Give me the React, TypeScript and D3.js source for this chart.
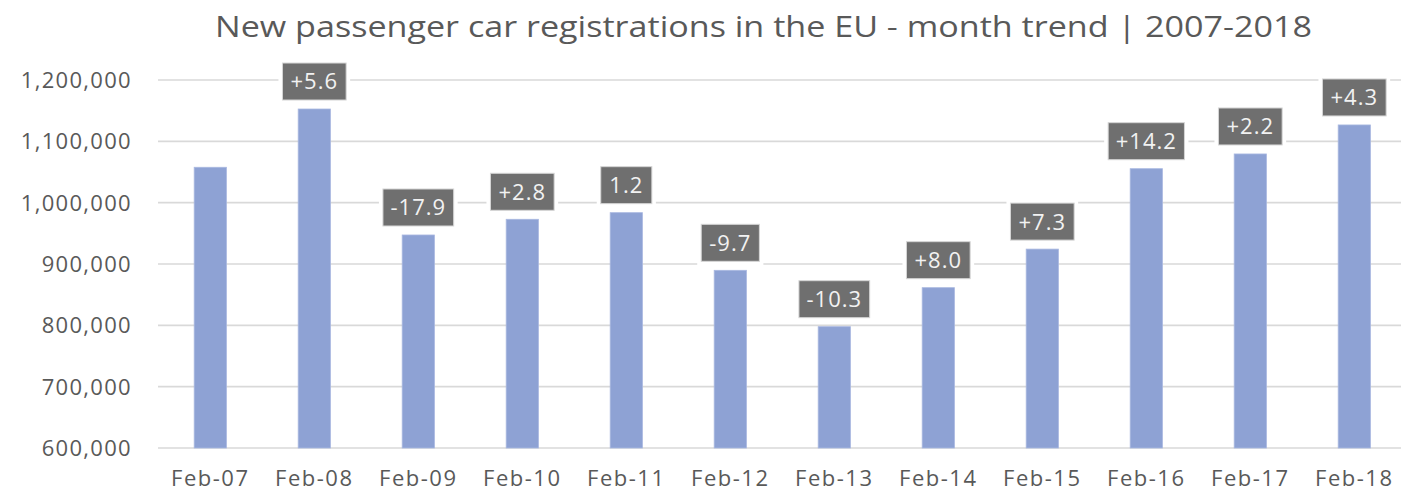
import React from 'react';
import { scaleBand, scaleLinear, range } from 'd3';

// chart data
const categories = ['Feb-07', 'Feb-08', 'Feb-09', 'Feb-10', 'Feb-11', 'Feb-12', 'Feb-13', 'Feb-14', 'Feb-15', 'Feb-16', 'Feb-17', 'Feb-18'];
const registrations = [1057700, 1152700, 947300, 972900, 983700, 889700, 797800, 861400, 924300, 1055400, 1079400, 1126700];
const changeLabels = ['', '+5.6', '-17.9', '+2.8', '1.2', '-9.7', '-10.3', '+8.0', '+7.3', '+14.2', '+2.2', '+4.3'];
const yTicks = range(600000, 1200001, 100000);

const width = 1401;
const height = 493;
const font = '"Open Sans", "Noto Sans", sans-serif';

// rough text width for label boxes (Open Sans digit widths)
const textWidth = (s: string, size: number) =>
  s.split('').reduce((acc, c) => acc + (c === '.' ? 0.27 : c === '-' ? 0.32 : 0.572), 0) * size;

const App = () => {
  const xScale = scaleBand<string>()
    .domain(categories)
    .range([158.3, 158.3 + 104 * categories.length])
    .paddingInner(0.69)
    .paddingOuter(0.345);

  const yScale = scaleLinear().domain([600000, 1200000]).range([448, 80]);

  const fmt = (v: number) => v.toLocaleString('en-US');

  return (
    <svg width={width} height={height} style={{ position: 'absolute', left: 0, top: 0, background: '#fff' }}>
      {/* title */}
      <text x={215} y={37} textLength={1097} lengthAdjust="spacingAndGlyphs" fontFamily={font} fontSize={29} fill="#595959">
        New passenger car registrations in the EU - month trend | 2007-2018
      </text>

      {/* gridlines */}
      {yTicks.map((t) => (
        <line key={t} x1={158} x2={width} y1={yScale(t)} y2={yScale(t)} stroke="#d9d9d9" strokeWidth={1.6} />
      ))}

      {/* y tick labels */}
      {yTicks.map((t) => (
        <text key={'l' + t} x={132} y={yScale(t)} dy="0.36em" textAnchor="end" fontFamily={font} fontSize={22} letterSpacing={1.3} fill="#595959">
          {fmt(t)}
        </text>
      ))}

      {/* bars */}
      {categories.map((c, i) => (
        <rect
          key={c}
          x={xScale(c)}
          y={yScale(registrations[i])}
          width={xScale.bandwidth()}
          height={yScale(600000) - yScale(registrations[i])}
          fill="#8EA2D4"
          stroke="#a9b8e0"
          strokeWidth={0.8}
        />
      ))}

      {/* x labels */}
      {categories.map((c) => (
        <text key={'x' + c} x={(xScale(c) ?? 0) + xScale.bandwidth() / 2} y={486} textAnchor="middle" fontFamily={font} fontSize={22} letterSpacing={1.5} fill="#595959">
          {c}
        </text>
      ))}

      {/* change labels */}
      {categories.map((c, i) => {
        const lbl = changeLabels[i];
        if (!lbl) return null;
        const cx = (xScale(c) ?? 0) + xScale.bandwidth() / 2;
        const w = textWidth(lbl, 22) + 20;
        const h = 37;
        const bottom = yScale(registrations[i]) - 9;
        return (
          <g key={'c' + c}>
            <rect x={cx - w / 2 - 4} y={bottom - h - 4} width={w + 8} height={h + 8} fill="#fff" />
            <rect x={cx - w / 2} y={bottom - h} width={w} height={h} fill="#6f6f6f" stroke="#d6d6d6" strokeWidth={1} />
            <text x={cx} y={bottom - h / 2} dy="0.36em" textAnchor="middle" fontFamily={font} fontSize={22} letterSpacing={1} fill="#f2f2f2">
              {lbl}
            </text>
          </g>
        );
      })}
    </svg>
  );
};

export default App;
